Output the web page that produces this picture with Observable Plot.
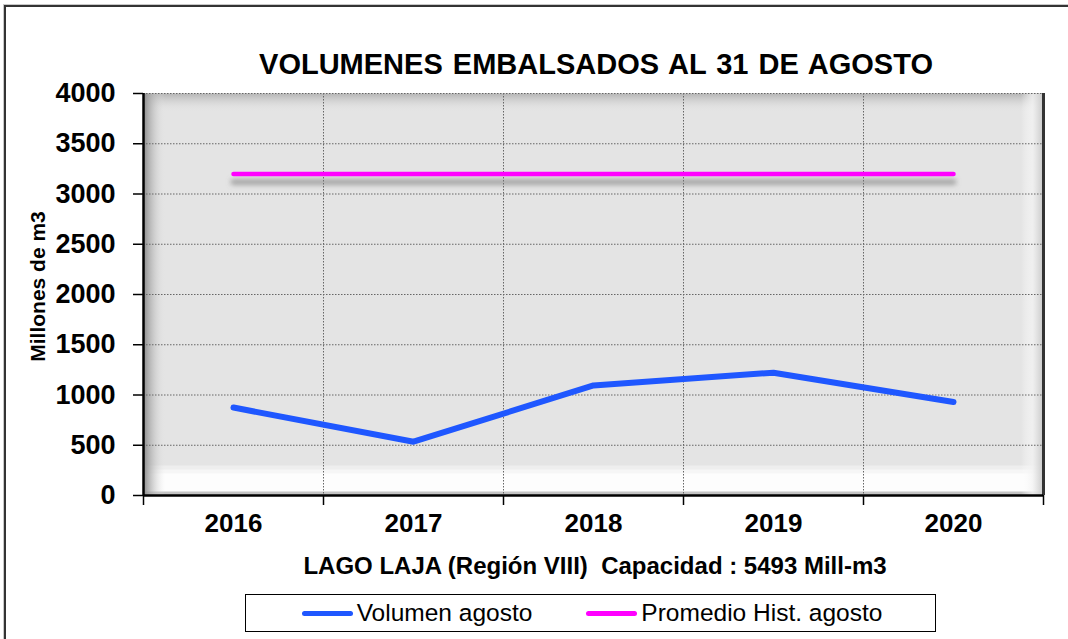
<!DOCTYPE html>
<html><head><meta charset="utf-8">
<script src="https://cdn.jsdelivr.net/npm/d3@7"></script>
<script src="https://cdn.jsdelivr.net/npm/@observablehq/plot@0.6"></script>
<style>
body{margin:0;background:#fff;overflow:hidden;width:1068px;height:639px;position:relative;font-family:"Liberation Sans",Arial,sans-serif;color:#000;}
#frame{position:absolute;left:4px;top:5px;width:1200px;height:800px;border-left:2px solid #333;border-top:2px solid #333;box-shadow:-1px -1px 0 #c8c8c8;}
#title{position:absolute;left:146px;width:900px;top:50px;text-align:center;font-size:29px;line-height:29px;font-weight:bold;white-space:pre;word-spacing:2px;}
#chart{position:absolute;left:0;top:80px;}
#xlabel{position:absolute;left:145px;width:900px;top:554px;text-align:center;font-size:24px;line-height:24px;font-weight:bold;white-space:pre;}
#legend{position:absolute;left:245px;top:594px;width:686px;height:36px;border:1.5px solid #000;display:flex;align-items:center;justify-content:center;gap:54px;padding-left:3px;box-sizing:content-box;}
.item{display:flex;align-items:center;font-size:24.5px;}
.sw{width:51px;height:5px;border-radius:3px;margin-right:4px;}
</style></head><body>
<svg width="0" height="0" style="position:absolute">
<defs>
<linearGradient id="bgV" x1="0" y1="0" x2="0" y2="1">
<stop offset="0" stop-color="#b4b4b4" stop-opacity="1"/>
<stop offset="0.045" stop-color="#e4e4e4" stop-opacity="0"/>
<stop offset="1" stop-color="#e4e4e4" stop-opacity="0"/>
</linearGradient>
<linearGradient id="bgH" x1="0" y1="0" x2="1" y2="0">
<stop offset="0" stop-color="#8c8c8c" stop-opacity="1"/>
<stop offset="0.024" stop-color="#e4e4e4" stop-opacity="0"/>
<stop offset="0.975" stop-color="#ffffff" stop-opacity="0"/>
<stop offset="0.988" stop-color="#f2f2f2" stop-opacity="0.8"/>
<stop offset="1" stop-color="#c8c8c8" stop-opacity="1"/>
</linearGradient>
<filter id="blur" filterUnits="userSpaceOnUse" x="0" y="0" width="1068" height="500">
<feGaussianBlur stdDeviation="2.5"/>
</filter>
</defs>
</svg>
<div id="frame"></div>
<div id="title">VOLUMENES EMBALSADOS AL 31 DE AGOSTO</div>
<div id="chart"></div>
<div id="xlabel">LAGO LAJA (Región VIII)  Capacidad : 5493 Mill-m3</div>
<div id="legend"></div>
<script>
const years = [2016, 2017, 2018, 2019, 2020];
const volumenAgosto = [875, 535, 1095, 1222, 931];
const promedioHist = [3200, 3200, 3200, 3200, 3200];
const yTicks = [0, 500, 1000, 1500, 2000, 2500, 3000, 3500, 4000];
const seriesNames = ["Volumen agosto", "Promedio Hist. agosto"];
const seriesColors = ["#1f57ff", "#ff00ff"];
const yLabel = "Millones de m3";

const bounds = [...years.map(y => y - 0.5), years[years.length - 1] + 0.5];
const vol = years.map((y, i) => ({year: y, value: volumenAgosto[i]}));
const prom = years.map((y, i) => ({year: y, value: promedioHist[i]}));
const grid = {stroke: "#666", strokeOpacity: 1, strokeWidth: 1, strokeDasharray: "1.5,1.5"};

const plot = Plot.plot({
  width: 1068, height: 500,
  marginTop: 13, marginLeft: 143, marginRight: 25, marginBottom: 85,
  style: {fontFamily: "'Liberation Sans', Arial, sans-serif", fontSize: "26px", fontWeight: "bold", color: "#000", background: "transparent", overflow: "visible"},
  x: {domain: [bounds[0], bounds[bounds.length - 1]]},
  y: {domain: [0, 4000]},
  marks: [
    Plot.frame({fill: "#e4e4e4", stroke: "none"}),
    Plot.frame({fill: "#eeeeee", stroke: "none", insetTop: 372}),
    Plot.frame({fill: "#f6f6f6", stroke: "none", insetTop: 376}),
    Plot.frame({fill: "#fdfdfd", stroke: "none", insetTop: 380}),
    Plot.frame({fill: "#c4c4c4", stroke: "none", insetTop: 398}),
    Plot.frame({fill: "url(#bgV)", stroke: "none"}),
    Plot.frame({fill: "url(#bgH)", stroke: "none"}),
    Plot.gridY(yTicks.slice(1), grid),
    Plot.gridX(bounds.slice(1, -1), grid),
    Plot.axisY(yTicks, {tickSize: 10, tickPadding: 18, tickFormat: "d", fontSize: 27, fontWeight: "bold", stroke: "#000", strokeWidth: 1.5, label: null}),
    Plot.axisX(years, {tickSize: 0, tickPadding: 18, tickFormat: "d", fontSize: 26, fontWeight: "bold", label: null}),
    Plot.axisX(bounds, {tickSize: 10, tickFormat: () => "", stroke: "#000", strokeWidth: 1.5, label: null}),
    Plot.ruleX([bounds[0]], {stroke: "#000", strokeWidth: 2.5}),
    Plot.ruleX([bounds[bounds.length - 1]], {stroke: "#333", strokeWidth: 3}),
    Plot.ruleY([0], {stroke: "#000", strokeWidth: 2.5}),
    Plot.line(prom, {x: "year", y: "value", stroke: "#7a7a7a", strokeWidth: 6, dy: 8, strokeOpacity: 0.6}),
    Plot.line(prom, {x: "year", y: "value", stroke: seriesColors[1], strokeWidth: 4.5}),
    Plot.line(vol, {x: "year", y: "value", stroke: seriesColors[0], strokeWidth: 6, strokeLinecap: "round", strokeLinejoin: "round"}),
    Plot.text([yLabel], {text: d => d, frameAnchor: "left", textAnchor: "middle", rotate: -90, dx: -105, dy: -8, fontSize: 21, fontWeight: "bold"})
  ]
});
document.getElementById("chart").appendChild(plot);
const lines = plot.querySelectorAll('g[aria-label="line"]');
if (lines.length) lines[0].setAttribute("filter", "url(#blur)");

const legend = document.getElementById("legend");
seriesNames.forEach((n, i) => {
  const it = document.createElement("div");
  it.className = "item";
  const sw = document.createElement("div");
  sw.className = "sw";
  sw.style.background = seriesColors[i];
  const t = document.createElement("span");
  t.textContent = n;
  it.appendChild(sw); it.appendChild(t);
  legend.appendChild(it);
});
</script>
</body></html>
